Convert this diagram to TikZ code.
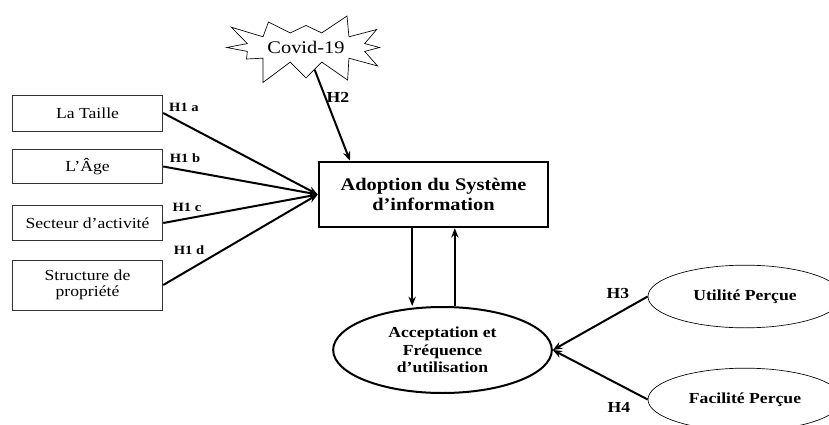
\documentclass[tikz,border=0pt]{standalone}
\usepackage{fontspec}
\setmainfont{Liberation Serif}[FakeStretch=1.15]
\usepackage{tikz}
\usetikzlibrary{shapes.geometric,shapes.symbols,arrows.meta}

\begin{document}
\begin{tikzpicture}[x=0.75pt, y=-0.75pt,
    facteur/.style={rectangle, draw=black!80, line width=0.6pt,
                    minimum width=113pt, align=center,
                    font=\fontsize{11.5}{12}\selectfont},
    adoption/.style={rectangle, draw, line width=1.6pt,
                     minimum width=172pt, minimum height=49pt, align=center,
                     font=\fontsize{13.3}{15}\selectfont\bfseries},
    acceptation/.style={ellipse, draw, line width=1.5pt, inner sep=0pt,
                        minimum width=164pt, minimum height=64.5pt, align=center,
                        font=\fontsize{11.5}{13}\selectfont\bfseries},
    percu/.style={ellipse, draw, line width=0.5pt,
                  minimum width=145.5pt, minimum height=47pt,
                  font=\fontsize{11.5}{13}\selectfont\bfseries},
    eclat/.style={starburst, draw, line width=0.5pt, starburst points=12,
                  starburst point height=20pt, random starburst=23,
                  minimum width=128pt, minimum height=55pt,
                  font=\fontsize{13.3}{15}\selectfont},
    hypo/.style={font=\fontsize{11.5}{13}\selectfont\bfseries, inner sep=0pt},
    hypopetit/.style={font=\fontsize{9.5}{10}\selectfont\bfseries, inner sep=0pt},
    lien/.style={line width=1.5pt, -{Stealth[length=7pt,width=5.5pt]}}
]
\useasboundingbox (0,0) rectangle (829,425);

\node[eclat] (covid) at (306,47.5) {Covid-19};

\node[facteur, minimum height=27pt] (taille) at (87.5,113) {La Taille};
\node[facteur, minimum height=26pt] (age) at (87.5,166.5) {L’Âge};
\node[facteur, minimum height=26pt] (secteur) at (87.5,223) {Secteur d’activité};
\node[facteur, minimum height=37.5pt] (structure) at (87.5,285) {Structure de\\propriété};

\node[adoption] (adopt) at (433.5,194.5) {Adoption du Système\\d’information};
\node[acceptation] (acc) at (442.5,350) {Acceptation et\\Fréquence\\d’utilisation};

\node[percu] (utile) at (745,296.5) {Utilité Perçue};
\node[percu] (facile) at (745,399.5) {Facilité Perçue};

\node[hypopetit] (h1a) at (184,107) {H1 a};
\node[hypopetit] (h1b) at (185,158) {H1 b};
\node[hypopetit] (h1c) at (187,207) {H1 c};
\node[hypopetit] (h1d) at (189,250) {H1 d};
\node[hypo] (h2) at (338,97) {H2};
\node[hypo] (h3) at (618,293) {H3};
\node[hypo] (h4) at (619,407) {H4};

\draw[lien] (taille.east) -- (adopt.west);
\draw[lien] (age.east) -- (adopt.west);
\draw[lien] (secteur.east) -- (adopt.west);
\draw[lien] (structure.east) -- (adopt.west);
\draw[lien] (covid) -- (adopt.158);

\draw[lien] ([xshift=-16pt]adopt.south) -- ([xshift=-16pt]adopt.south |- acc.north);
\draw[lien] ([xshift=16pt]adopt.south |- acc.north) -- ([xshift=16pt]adopt.south);

\draw[lien] (utile.west) -- (acc.east);
\draw[lien] (facile.west) -- (acc.east);
\end{tikzpicture}
\end{document}
